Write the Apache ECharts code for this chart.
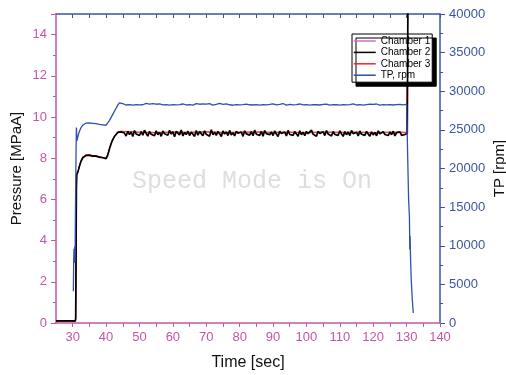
<!DOCTYPE html>
<html>
<head>
<meta charset="utf-8">
<script src="https://cdn.jsdelivr.net/npm/echarts@6/dist/echarts.min.js"></script>
<style>
  html, body { margin: 0; padding: 0; background: #fff; }
  #chart { width: 506px; height: 375px; }
</style>
</head>
<body>
<div id="chart"></div>
<script>
// start-up ramp (sec)
const rampTime = [25, 30.8, 30.9, 31.0, 31.1, 31.2, 31.6, 32, 32.5, 33, 33.5, 34, 35, 36, 37, 38, 39, 40, 40.5, 41, 41.5, 42, 42.5, 43, 43.5, 44, 44.5, 45];
const ch2Ramp = [0.1, 0.1, 0.25, 3.0, 6.4, 7.2, 7.35, 7.6, 7.85, 8.02, 8.1, 8.13, 8.14, 8.1, 8.1, 8.05, 8.02, 7.98, 8.15, 8.45, 8.7, 8.9, 9.05, 9.15, 9.25, 9.3, 9.28, 9.3];
const ch1Ramp = [0.07, 0.07, 0.2, 2.9, 6.3, 7.15, 7.35, 7.62, 7.88, 8.05, 8.12, 8.15, 8.16, 8.12, 8.11, 8.06, 8.03, 8.0, 8.17, 8.47, 8.72, 8.92, 9.07, 9.17, 9.27, 9.32, 9.3, 9.31];
const ch3Ramp = [0.08, 0.08, 0.22, 2.95, 6.35, 7.18, 7.37, 7.63, 7.9, 8.06, 8.14, 8.17, 8.18, 8.13, 8.12, 8.07, 8.04, 8.01, 8.18, 8.48, 8.73, 8.93, 9.08, 9.18, 9.28, 9.33, 9.31, 9.32];

// steady run, sampled every 0.5 s from 45.5 to 130.0
const runStart = 45.5;
const runStep = 0.5;
const ch2Run = [
  9.22,9.08,9.31,9.15,9.27,9.05,9.34,9.18,9.25,9.10,
  9.29,9.12,9.36,9.20,9.07,9.30,9.16,9.24,9.09,9.33,
  9.14,9.26,9.06,9.32,9.19,9.23,9.11,9.35,9.17,9.28,
  9.04,9.30,9.21,9.13,9.37,9.08,9.25,9.15,9.31,9.10,
  9.27,9.18,9.06,9.34,9.12,9.29,9.20,9.09,9.33,9.16,
  9.24,9.07,9.38,9.14,9.26,9.11,9.30,9.19,9.05,9.32,
  9.17,9.28,9.10,9.35,9.13,9.23,9.08,9.31,9.21,9.15,
  9.27,9.06,9.33,9.18,9.25,9.12,9.29,9.09,9.36,9.16,
  9.22,9.11,9.30,9.07,9.34,9.19,9.26,9.14,9.28,9.10,
  9.32,9.17,9.05,9.31,9.20,9.13,9.27,9.08,9.35,9.15,
  9.24,9.11,9.29,9.18,9.06,9.33,9.14,9.26,9.09,9.30,
  9.19,9.12,9.36,9.16,9.23,9.07,9.31,9.20,9.13,9.28,
  9.10,9.34,9.17,9.25,9.08,9.30,9.15,9.22,9.11,9.33,
  9.18,9.06,9.29,9.14,9.27,9.10,9.35,9.19,9.12,9.26,
  9.08,9.32,9.16,9.24,9.11,9.30,9.17,9.07,9.28,9.13,
  9.25,9.09,9.33,9.18,9.12,9.29,9.15,9.22,9.10,9.27,
  9.14,9.31,9.08,9.24,9.17,9.28,9.11,9.20,9.15,9.22
];
const tpRun = [
  28350,28220,28410,28280,28330,28190,28400,28260,28310,28230,
  28380,28250,28300,28420,28210,28340,28270,28390,28240,28320,
  28180,28360,28290,28230,28400,28260,28330,28200,28370,28280,
  28310,28240,28410,28270,28190,28350,28300,28220,28380,28260,
  28330,28210,28290,28400,28250,28320,28180,28360,28270,28340,
  28230,28390,28280,28200,28350,28310,28240,28420,28260,28300,
  28220,28370,28290,28250,28330,28190,28380,28270,28310,28230,
  28360,28280,28210,28340,28300,28250,28400,28220,28320,28270,
  28350,28200,28390,28260,28310,28240,28330,28290,28180,28370,
  28280,28230,28360,28300,28250,28410,28270,28210,28340,28290,
  28320,28240,28380,28260,28200,28350,28300,28230,28370,28280,
  28310,28190,28340,28270,28400,28250,28300,28220,28360,28290,
  28240,28330,28280,28210,28380,28260,28320,28250,28350,28200,
  28300,28270,28390,28230,28310,28280,28240,28360,28290,28220,
  28340,28260,28310,28190,28370,28280,28250,28330,28270,28300,
  28230,28350,28280,28210,28320,28260,28390,28240,28300,28270,
  28330,28220,28360,28280,28250,28310,28290,28240,28320,28300
];

// chambers 1 and 3 sit under chamber 2, sampled sparser
const sideTime = [50, 55, 60, 65, 70, 75, 80, 85, 90, 95, 100, 105, 110, 115, 120, 125, 130];
const ch1Run = [9.24, 9.22, 9.25, 9.23, 9.26, 9.22, 9.24, 9.25, 9.23, 9.24, 9.22, 9.25, 9.23, 9.24, 9.22, 9.24, 9.23];
const ch3Run = [9.27, 9.25, 9.28, 9.26, 9.29, 9.25, 9.27, 9.28, 9.26, 9.27, 9.25, 9.28, 9.26, 9.27, 9.25, 9.27, 9.26];

// shut-down
const stopTime = [130.2, 130.3, 130.4];
const ch2Stop = [9.2, 9.25, 16];

// turbo pump speed, rpm
const tpRampTime = [30.2, 30.3, 30.4, 30.5, 30.6, 30.7, 30.8, 31.0, 31.1, 31.2, 31.3, 31.6, 32, 32.5, 33, 34, 35, 36, 37, 38, 39, 40, 40.5, 41, 42, 43, 43.5, 44, 44.5, 45];
const tpRamp = [4100, 8200, 9600, 7800, 9900, 8000, 13500, 22000, 25300, 24500, 23600, 24200, 24800, 25300, 25600, 25880, 25900, 25850, 25800, 25700, 25650, 25600, 25800, 26200, 27000, 27800, 28200, 28500, 28450, 28400];
const tpStopTime = [130.2, 130.35, 130.45, 130.6, 130.85, 130.95, 131.05, 131.2, 131.4, 131.7, 132.0];
const tpStop = [28300, 28250, 18900, 16000, 13700, 9500, 11300, 8000, 5500, 3000, 1300];

const xMajor = [30, 40, 50, 60, 70, 80, 90, 100, 110, 120, 130, 140];
const xTicks = [30, 35, 40, 45, 50, 55, 60, 65, 70, 75, 80, 85, 90, 95, 100, 105, 110, 115, 120, 125, 130, 135, 140];

const pink = '#c455a8';
const axisBlue = '#3a55a4';

function zip(ts, vs) {
  return ts.map((t, i) => [t, vs[i]]);
}

let ch2Data = zip(rampTime, ch2Ramp)
  .concat(ch2Run.map((v, i) => [runStart + i * runStep, v]))
  .concat(zip(stopTime, ch2Stop));
let ch1Data = zip(rampTime, ch1Ramp).concat(zip(sideTime, ch1Run)).concat(zip(stopTime, ch2Stop));
let ch3Data = zip(rampTime, ch3Ramp).concat(zip(sideTime, ch3Run)).concat(zip(stopTime, ch2Stop));
let tpData = zip(tpRampTime, tpRamp)
  .concat(tpRun.map((v, i) => [runStart + i * runStep, v]))
  .concat(zip(tpStopTime, tpStop));

let myChart = echarts.init(document.getElementById('chart'), null, {renderer: 'canvas'});

const lineSeries = (name, data, color, yIdx, z, w) => ({
  name: name,
  type: 'line',
  data: data,
  yAxisIndex: yIdx,
  symbol: 'none',
  z: z,
  animation: false,
  lineStyle: {color: color, width: w},
  itemStyle: {color: color}
});

myChart.setOption({
  animation: false,
  grid: {left: 56, right: 66, top: 14, bottom: 52, containLabel: false, outerBoundsMode: 'none'},
  legend: {
    data: ['Chamber 1', 'Chamber 2', 'Chamber 3', 'TP, rpm'],
    orient: 'vertical',
    left: 352,
    top: 34,
    padding: [2, 2, 2, 1],
    itemGap: 1.4,
    itemWidth: 22,
    itemHeight: 11,
    itemStyle: {opacity: 0},
    lineStyle: {width: 1.5},
    backgroundColor: '#fff',
    borderColor: '#000',
    borderWidth: 1,
    borderRadius: 0,
    shadowColor: '#000',
    shadowBlur: 0,
    shadowOffsetX: 4,
    shadowOffsetY: 4,
    textStyle: {fontFamily: 'Liberation Sans, Arial', fontSize: 10, color: '#000'}
  },
  graphic: [{
    type: 'text',
    x: 252,
    y: 181,
    silent: true,
    style: {
      text: 'Speed Mode is On',
      fontFamily: 'Liberation Mono, Courier New, monospace',
      fontSize: 25,
      fill: '#dedede',
      align: 'center',
      verticalAlign: 'middle'
    }
  }],
  xAxis: [{
    type: 'value',
    min: 25,
    max: 140,
    position: 'bottom',
    name: 'Time [sec]',
    nameLocation: 'middle',
    nameGap: 32,
    nameMoveOverlap: false,
    nameTextStyle: {fontFamily: 'Liberation Sans, Arial', fontSize: 16, color: '#111'},
    axisLine: {onZero: false, lineStyle: {color: pink, width: 1.5}},
    axisTick: {show: true, customValues: xTicks, length: 4, lineStyle: {color: pink}},
    axisLabel: {customValues: xMajor, margin: 8, color: pink, fontFamily: 'Liberation Sans, Arial', fontSize: 13},
    splitLine: {show: false}
  }, {
    type: 'value',
    min: 25,
    max: 140,
    position: 'top',
    axisLine: {show: true, onZero: false, lineStyle: {color: axisBlue, width: 1.5}},
    axisTick: {show: true, inside: true, customValues: xTicks, length: 4, lineStyle: {color: axisBlue}},
    axisLabel: {show: false},
    splitLine: {show: false}
  }],
  yAxis: [{
    type: 'value',
    min: 0,
    max: 15,
    interval: 2,
    position: 'left',
    name: 'Pressure [MPaA]',
    nameLocation: 'middle',
    nameRotate: 90,
    nameGap: 32,
    nameMoveOverlap: false,
    nameTextStyle: {fontFamily: 'Liberation Sans, Arial', fontSize: 15, color: '#111'},
    axisLine: {show: true, onZero: false, lineStyle: {color: pink, width: 1.5}},
    axisTick: {show: true, length: 5, lineStyle: {color: pink}},
    minorTick: {show: true, splitNumber: 2, length: 3, lineStyle: {color: pink}},
    axisLabel: {margin: 9, showMaxLabel: false, color: pink, fontFamily: 'Liberation Sans, Arial', fontSize: 13},
    splitLine: {show: false}
  }, {
    type: 'value',
    min: 0,
    max: 40000,
    interval: 5000,
    position: 'right',
    name: 'TP [rpm]',
    nameLocation: 'middle',
    nameRotate: 90,
    nameGap: 52,
    nameMoveOverlap: false,
    nameTextStyle: {fontFamily: 'Liberation Sans, Arial', fontSize: 15, color: '#111'},
    axisLine: {show: true, onZero: false, lineStyle: {color: axisBlue, width: 1.5}},
    axisTick: {show: true, length: 5, lineStyle: {color: axisBlue}},
    minorTick: {show: true, splitNumber: 2, length: 3, lineStyle: {color: axisBlue}},
    axisLabel: {margin: 9, color: axisBlue, fontFamily: 'Liberation Sans, Arial', fontSize: 13,
      formatter: v => String(v)},
    splitLine: {show: false}
  }],
  series: [
    lineSeries('Chamber 1', ch1Data, '#d070c0', 0, 2, 1),
    lineSeries('Chamber 2', ch2Data, '#000000', 0, 4, 1.7),
    lineSeries('Chamber 3', ch3Data, '#ff2020', 0, 3, 1),
    lineSeries('TP, rpm', tpData, '#2f50b0', 1, 5, 1.3)
  ]
});
</script>
</body>
</html>
